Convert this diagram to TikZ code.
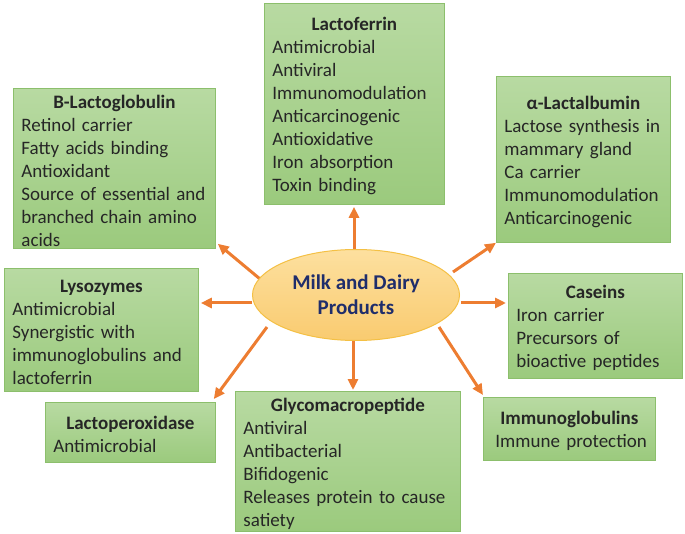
\documentclass[tikz,border=0pt]{standalone}
\usepackage{fontspec}
\setmainfont{Carlito}
\usetikzlibrary{shapes.geometric,arrows.meta,calc}
\hyphenpenalty=10000
\exhyphenpenalty=10000
\hbadness=10000
\hfuzz=20pt
\definecolor{boxtop}{HTML}{B8DAA2}
\definecolor{boxbot}{HTML}{9BCA7D}
\definecolor{boxline}{HTML}{8CBF6C}
\definecolor{elltop}{HTML}{FDE09F}
\definecolor{ellbot}{HTML}{F9CB70}
\definecolor{elline}{HTML}{F4C044}
\definecolor{arrcol}{HTML}{ED7D31}
\definecolor{navy}{HTML}{1F2D6B}
\newcommand\bxtitle[1]{\rule{0pt}{18pt}\makebox[\linewidth]{\bfseries #1}\\}
\begin{document}
\begin{tikzpicture}[x=1pt,y=-1pt,
 box/.style={draw=boxline, line width=0.8pt, top color=boxtop, bottom color=boxbot,
   inner xsep=8pt, inner ysep=0pt, align=left, anchor=north west,
   font=\fontsize{19}{23}\selectfont, text=black!85},
 ellnode/.style={ellipse, draw=elline, line width=1pt, top color=elltop, bottom color=ellbot,
   inner sep=0pt, minimum width=207pt, minimum height=91pt, align=center,
   text=navy, font=\bfseries\fontsize{21}{25}\selectfont},
 arr/.style={draw=arrcol, line width=3pt, -{Triangle[length=11pt,width=10pt]}}]
\useasboundingbox (0,0) rectangle (685,534);

\node[box, minimum width=180pt, minimum height=201pt, text width=164pt] (lf) at (264,3)
 {\bxtitle{Lactoferrin}Antimicrobial\\Antiviral\\Immunomodulation\\Anticarcinogenic\\Antioxidative\\Iron absorption\\Toxin binding};
\node[box, minimum width=202pt, minimum height=160pt, text width=186pt] (bl) at (13,88)
 {\bxtitle{B-Lactoglobulin}Retinol carrier\\Fatty acids binding\\Antioxidant\\Source of essential and\\branched chain amino\\acids};
\node[box, minimum width=174pt, minimum height=166pt, text width=158pt] (al) at (496,76)
 {\bxtitle{α-Lactalbumin}Lactose synthesis in\\mammary gland\\Ca carrier\\Immunomodulation\\Anticarcinogenic};
\node[box, minimum width=174pt, minimum height=105pt, text width=158pt] (cs) at (508,273)
 {\bxtitle{Caseins}Iron carrier\\Precursors of\\bioactive peptides};
\node[box, inner xsep=9pt, minimum width=172pt, minimum height=63pt, text width=154pt] (ig) at (483,397)
 {\bxtitle{Immunoglobulins}\hspace*{3pt}\mbox{Immune protection}};
\node[box, minimum width=194pt, minimum height=123pt, text width=178pt] (ly) at (4,268)
 {\bxtitle{Lysozymes}Antimicrobial\\Synergistic with\\immunoglobulins and\\lactoferrin};
\node[box, minimum width=170pt, minimum height=60pt, text width=154pt] (lp) at (45,402)
 {\bxtitle{Lactoperoxidase}Antimicrobial};
\node[box, minimum width=225pt, minimum height=140pt, text width=209pt] (gl) at (235,391)
 {\bxtitle{Glycomacropeptide}Antiviral\\Antibacterial\\Bifidogenic\\Releases protein to cause\\satiety};

\coordinate (ec) at (356,295);
\coordinate (sLf) at ($(ec)+(-2,-46)$);
\coordinate (sBl) at ($(ec)+(-96,-16)$);
\coordinate (sLy) at ($(ec)+(-104,8)$);
\coordinate (sLp) at ($(ec)+(-89,32)$);
\coordinate (sGl) at ($(ec)+(-3,45)$);
\coordinate (sIg) at ($(ec)+(83,32)$);
\coordinate (sCs) at ($(ec)+(105,8)$);
\coordinate (sAl) at ($(ec)+(97,-23)$);

\draw[arr] (sLf) -- ($(sLf |- lf.south)+(0,2)$);
\draw[arr] (sBl) -- ($(bl.south east)+(2,-5)$);
\draw[arr] (sLy) -- ($(sLy -| ly.east)+(2,0)$);
\draw[arr] (sLp) -- ($(lp.north east)+(-2,-3)$);
\draw[arr] (sGl) -- ($(sGl |- gl.north)+(0,-1)$);
\draw[arr] (sIg) -- ($(ig.north west)+(0,-2)$);
\draw[arr] (sCs) -- ($(sCs -| cs.west)+(-2,0)$);
\draw[arr] (sAl) -- (al.south west);

\node[ellnode] (ell) at (ec) {Milk and Dairy\\Products};
\end{tikzpicture}
\end{document}
